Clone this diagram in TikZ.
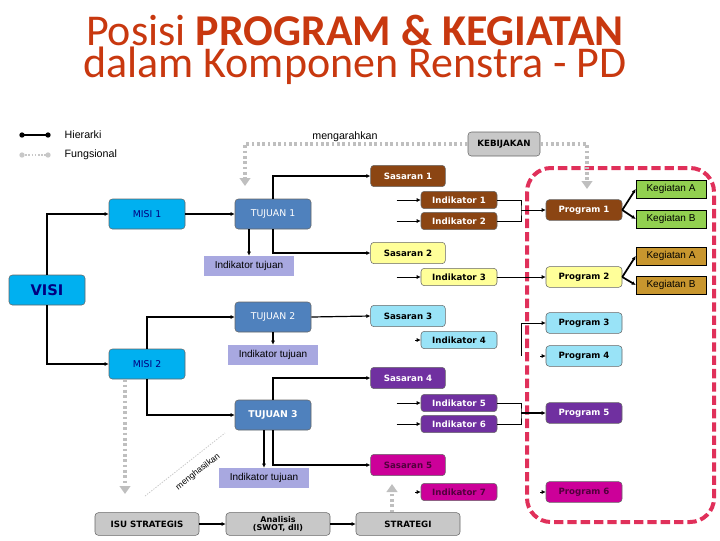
\documentclass[tikz,border=0pt]{standalone}
\usepackage{fontspec}
\setmainfont{Carlito}
\newfontfamily\arialf{Liberation Sans}
\newfontfamily\verd{DejaVu Sans}
\usetikzlibrary{arrows.meta}
\definecolor{ttl}{HTML}{C8380F}
\definecolor{brn}{HTML}{8B4513}
\definecolor{yel}{HTML}{FFFF99}
\definecolor{lbl}{HTML}{99E3F7}
\definecolor{pur}{HTML}{7030A0}
\definecolor{mag}{HTML}{CC0099}
\definecolor{vis}{HTML}{00B0F0}
\definecolor{tuj}{HTML}{4F81BD}
\definecolor{lav}{HTML}{A8A8E0}
\definecolor{grn}{HTML}{92D050}
\definecolor{tan}{HTML}{C8962E}
\definecolor{gry}{HTML}{C8C8C8}
\definecolor{redd}{HTML}{E0305A}
\begin{document}
\begin{tikzpicture}[x=0.75pt,y=-0.75pt,
 bx/.style={draw=black!60,rounded corners=2.5pt,inner sep=0pt,font=\verd\bfseries\fontsize{6.5}{7}\selectfont},
 sas/.style={bx,minimum width=56pt,minimum height=16pt},
 ind/.style={bx,minimum width=57pt,minimum height=13pt},
 prg/.style={bx,minimum width=57pt,minimum height=15.5pt},
 big/.style={bx,minimum width=57pt,minimum height=22.5pt,font=\verd\fontsize{7}{8}\selectfont},
 keg/.style={draw=black,inner sep=0pt,minimum width=52.5pt,minimum height=13.5pt,font=\arialf\fontsize{7.5}{8}\selectfont},
 itj/.style={fill=lav,inner sep=0pt,minimum width=67.5pt,minimum height=15pt,font=\arialf\fontsize{7.5}{8}\selectfont},
 gbx/.style={bx,fill=gry,minimum width=78pt,minimum height=17pt,font=\verd\bfseries\fontsize{6.5}{7}\selectfont,align=center},
 ln/.style={draw=black,line width=0.9pt,-{Latex[length=3pt,width=3pt]}},
 tn/.style={draw=black,line width=0.5pt,-{Latex[length=3pt,width=3pt]}},
 dt/.style={draw=black!25,line width=3pt,dash pattern=on 2pt off 2pt},
 dta/.style={dt,-{Triangle[length=6pt,width=8pt]}}]
\useasboundingbox (0,0) rectangle (720,540);
% title
\node[text=ttl,font=\fontsize{33}{36}\selectfont] (t1) at (355,30) {Posisi \textbf{PROGRAM \& KEGIATAN}};
\node[text=ttl,font=\fontsize{33}{36}\selectfont] (t2) at (355,66) {dalam Komponen Renstra - PD};
% legend
\coordinate (l1a) at (22,135); \coordinate (l1b) at (48,135);
\draw[line width=1pt] (l1a) -- (l1b); \fill (l1a) circle (2pt) (l1b) circle (2pt);
\coordinate (l2a) at (22,155); \coordinate (l2b) at (48,155);
\draw[gry,line width=1pt,dash pattern=on 1.2pt off 1.2pt] (l2a) -- (l2b); \fill[gry] (l2a) circle (2pt) (l2b) circle (2pt);
\node[anchor=west,font=\arialf\fontsize{8}{9}\selectfont] (lh) at (60,135) {Hierarki};
\node[anchor=west,font=\arialf\fontsize{8}{9}\selectfont] (lf) at (60,155) {Fungsional};
\node[font=\arialf\fontsize{8}{9}\selectfont] (mg) at (345,137) {mengarahkan};
% red dashed box
\draw[redd,line width=3pt,dash pattern=on 7pt off 3pt,rounded corners=18pt] (527,168) rectangle (714,522);
% left boxes
\node[big,fill=vis,font=\verd\bfseries\fontsize{11}{12}\selectfont,text=blue!50!black] (visi) at (47,290) {VISI};
\node[big,fill=vis,text=blue!50!black] (m1) at (147,214) {MISI 1};
\node[big,fill=vis,text=blue!50!black] (m2) at (147,364) {MISI 2};
\node[big,fill=tuj,text=white] (tj1) at (273,214) {TUJUAN 1};
\node[big,fill=tuj,text=white] (tj2) at (273,317) {TUJUAN 2};
\node[big,fill=tuj,text=white,font=\verd\bfseries\fontsize{7}{8}\selectfont] (tj3) at (273,415) {TUJUAN 3};
\node[itj] (it1) at (249,266) {Indikator tujuan};
\node[itj] (it2) at (273,355) {Indikator tujuan};
\node[itj] (it3) at (264,478) {Indikator tujuan};
% sasaran
\node[sas,fill=brn,text=white] (s1) at (408,176) {Sasaran 1};
\node[sas,fill=yel] (s2) at (408,253) {Sasaran 2};
\node[sas,fill=lbl] (s3) at (408,316) {Sasaran 3};
\node[sas,fill=pur,text=white] (s4) at (408,378) {Sasaran 4};
\node[sas,fill=mag,text=black!60!mag] (s5) at (408,465) {Sasaran 5};
% indikator
\node[ind,fill=brn,text=white] (i1) at (459,200) {Indikator 1};
\node[ind,fill=brn,text=white] (i2) at (459,221) {Indikator 2};
\node[ind,fill=yel] (i3) at (459,277) {Indikator 3};
\node[ind,fill=lbl] (i4) at (459,340) {Indikator 4};
\node[ind,fill=pur,text=white] (i5) at (459,403) {Indikator 5};
\node[ind,fill=pur,text=white] (i6) at (459,424) {Indikator 6};
\node[ind,fill=mag,text=black!60!mag] (i7) at (459,492) {Indikator 7};
% program
\node[prg,fill=brn,text=white] (p1) at (584,210) {Program 1};
\node[prg,fill=yel] (p2) at (584,277) {Program 2};
\node[prg,fill=lbl] (p3) at (584,323) {Program 3};
\node[prg,fill=lbl] (p4) at (584,356) {Program 4};
\node[prg,fill=pur,text=white] (p5) at (584,413) {Program 5};
\node[prg,fill=mag,text=black!60!mag] (p6) at (584,492) {Program 6};
% kegiatan
\node[keg,fill=grn] (k1a) at (671,189) {Kegiatan A};
\node[keg,fill=grn] (k1b) at (671,219) {Kegiatan B};
\node[keg,fill=tan] (k2a) at (671,256) {Kegiatan A};
\node[keg,fill=tan] (k2b) at (671,285) {Kegiatan B};
% bottom
\node[gbx] (isu) at (147,524) {ISU STRATEGIS};
\node[gbx,font=\verd\bfseries\fontsize{6}{6.5}\selectfont] (ana) at (278,524) {Analisis\\(SWOT, dll)};
\node[gbx] (str) at (408,524) {STRATEGI};
\node[bx,fill=gry,minimum width=54pt,minimum height=18pt] (keb) at (504,144) {KEBIJAKAN};
% hierarchy connectors
\draw[ln] (visi.north) |- (m1.west);
\draw[ln] (visi.south) |- (m2.west);
\draw[ln] (m1) -- (tj1);
\draw[ln] (m2.north) |- (tj2.west);
\draw[ln] (m2.south) |- (tj3.west);
\draw[ln] (tj1.south -| it1.north) -- (it1.north);
\draw[ln] (tj2.south) -- (it2.north);
\draw[ln] (tj3.south -| it3.north) -- (it3.north);
\draw[ln] (tj1.north) |- (s1.west);
\draw[ln] (tj1.south) |- (s2.west);
\draw[ln] (tj2.east) -- (s3.west);
\draw[ln] (tj3.north) |- (s4.west);
\draw[ln] (tj3.south) |- (s5.west);
\foreach \n in {i1,i2,i3,i5,i6}{\coordinate (\n s) at ([xshift=-18]\n.west); \draw[tn] (\n s) -- (\n.west);}
\foreach \n in {i4,i7,p4,p6}{\coordinate (\n s) at ([xshift=-4]\n.west); \draw[tn] (\n s) -- (\n.west);}
\coordinate (j1) at (521,210); \coordinate (j5) at (521,413); \coordinate (j3) at (521,356);
\draw[line width=0.5pt] (i1.east) -| (j1) |- (i2.east);
\draw[tn] (j1) -- (p1.west);
\draw[tn] (i3.east) -- (p2.west);
\draw[line width=0.5pt] (i5.east) -| (j5) |- (i6.east);
\draw[ln] (j5) -- (p5.west);
\draw[tn] (j3) |- (p3.west);
\foreach \p/\k in {p1/k1a,p1/k1b,p2/k2a,p2/k2b}{\draw[ln,line width=1.3pt] (\p.east) -- (\k.west);}
\draw[ln] (isu) -- (ana);
\draw[ln] (ana) -- (str);
% functional
\coordinate (fa) at (245,186); \coordinate (fb) at (587,189);
\draw[dta] (keb.west) -| (fa);
\draw[dta] (keb.east) -| (fb);
\coordinate (fm) at (125,494);
\draw[dta] (m2.south -| fm) -- (fm);
\coordinate (fs) at (392,484);
\draw[dta] (str.north -| fs) -- (fs);
\coordinate (da) at (145,496); \coordinate (db) at (225,433);
\draw[gry,line width=0.6pt,dash pattern=on 1pt off 1pt] (da) -- (db);
\node[rotate=38,font=\arialf\fontsize{6.5}{7}\selectfont] (mh) at (198,472) {menghasilkan};
\end{tikzpicture}
\end{document}
